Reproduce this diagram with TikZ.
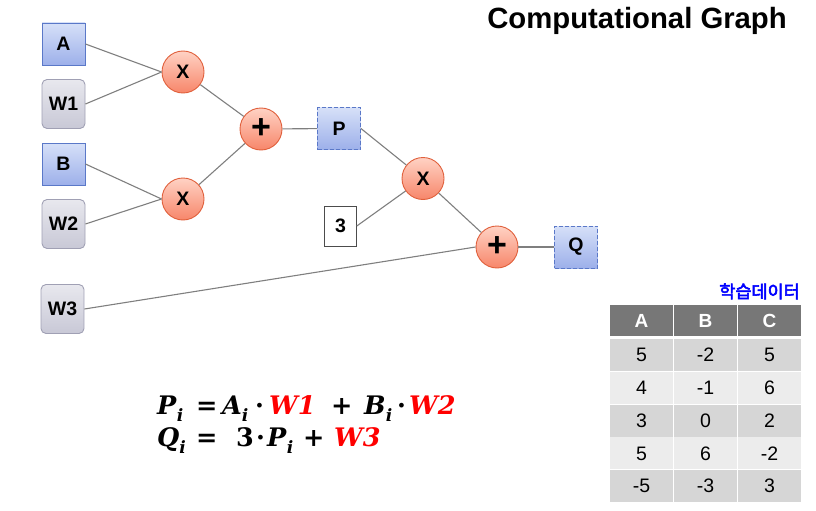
\documentclass[tikz,border=0pt]{standalone}
\usepackage{fontspec}
\setmainfont{Liberation Sans}
\newfontfamily\krfont[AutoFakeBold=3]{Noto Sans CJK KR}
\newfontfamily\eqfont{DejaVu Serif}
\usepackage{xcolor}
\definecolor{edgegray}{HTML}{7F7F7F}
\definecolor{bluetop}{HTML}{D6E0F8}
\definecolor{bluebot}{HTML}{9DB0EA}
\definecolor{blueline}{HTML}{5A78C8}
\definecolor{graytop}{HTML}{E8E8EE}
\definecolor{graybot}{HTML}{C8C8D6}
\definecolor{grayline}{HTML}{A0A0B4}
\definecolor{redtop}{HTML}{FFD2C4}
\definecolor{redbot}{HTML}{F7866A}
\definecolor{redline}{HTML}{E0603C}
\definecolor{hdr}{HTML}{777777}
\definecolor{rowA}{HTML}{D6D6D6}
\definecolor{rowB}{HTML}{ECECEC}
\definecolor{eqred}{HTML}{FF0000}
\definecolor{krblue}{HTML}{0000FF}
\newcommand{\vr}[1]{\textbf{\textit{#1}}\raisebox{-0.28em}{\fontsize{17}{17}\selectfont\textbf{\textit{i}}}}
\newcommand{\rw}[1]{\textcolor{eqred}{\textbf{\textit{#1}}}}
\newcommand{\putat}[2]{\makebox[0pt][l]{\hspace*{#1}#2}}
\begin{document}
\begin{tikzpicture}[x=1pt,y=-1pt,
  lbl/.style={font=\fontsize{19.5}{21}\selectfont\bfseries},
  inbox/.style={lbl,draw=blueline,line width=0.9pt,top color=bluetop,bottom color=bluebot,minimum width=43pt,minimum height=42pt,inner sep=0pt},
  outbox/.style={inbox,dash pattern=on 4pt off 2pt},
  wbox/.style={lbl,draw=grayline,line width=0.9pt,rounded corners=5pt,top color=graytop,bottom color=graybot,minimum width=43pt,minimum height=49pt,inner sep=0pt},
  opnode/.style={lbl,circle,draw=redline,line width=0.9pt,top color=redtop,bottom color=redbot,minimum size=42pt,inner sep=0pt},
  plusnode/.style={opnode,font=\fontsize{34}{34}\selectfont\bfseries},
  constbox/.style={lbl,draw=black!70,line width=0.6pt,fill=white,minimum width=32pt,minimum height=40pt,inner sep=0pt},
  edge/.style={draw=edgegray,line width=1.1pt},
  hcell/.style={fill=hdr,text=white,font=\fontsize{19}{21}\selectfont\bfseries,minimum width=63pt,minimum height=31pt,inner sep=0pt},
  cellA/.style={fill=rowA,font=\fontsize{19.5}{21}\selectfont,minimum width=63pt,minimum height=32pt,inner sep=0pt},
  cellB/.style={fill=rowB,font=\fontsize{19.5}{21}\selectfont,minimum width=63pt,minimum height=32pt,inner sep=0pt},
  eqnode/.style={anchor=base west,font=\fontsize{25.5}{30}\eqfont\bfseries,inner sep=0pt}
]
\useasboundingbox (0,0) rectangle (816,511);
% nodes
\node[inbox] (A) at (63.5,44) {A};
\node[wbox] (W1) at (63.5,104) {W1};
\node[inbox] (B) at (63.5,164) {B};
\node[wbox] (W2) at (63.5,224) {W2};
\node[wbox] (W3) at (62.5,309) {W3};
\node[opnode] (X1) at (183,72) {X};
\node[opnode] (X2) at (183,199) {X};
\node[plusnode] (S1) at (261,129) {+};
\node[outbox] (P) at (339,128.5) {P};
\node[opnode] (X3) at (423,178.5) {X};
\node[constbox] (C3) at (340.5,226) {3};
\node[plusnode] (S2) at (497,247) {+};
\node[outbox] (Q) at (576,247) {Q};
% edges
\path[edge] (A.east) -- (X1.west);
\path[edge] (W1.east) -- (X1.west);
\path[edge] (B.east) -- (X2.west);
\path[edge] (W2.east) -- (X2.west);
\path[edge] (X1) -- (S1);
\path[edge] (X2) -- (S1);
\path[edge] (S1) -- (P);
\path[edge] (P.east) -- (X3);
\path[edge] (C3.east) -- (X3);
\path[edge] (X3) -- (S2);
\path[edge] (W3.east) -- (S2.west);
\path[edge] (S2) -- (Q);
% title
\node[anchor=base east,font=\fontsize{29.3}{32}\selectfont\bfseries,inner sep=0pt] (title) at (787,29) {Computational Graph};
% table
\node[anchor=base east,text=krblue,font=\fontsize{17.5}{19}\krfont\bfseries,inner sep=0pt] (kr) at (800,298) {학습데이터};
\node[hcell] (h0) at (641.5,320.5) {A};
\node[hcell] (h1) at (705.5,320.5) {B};
\node[hcell] (h2) at (769.5,320.5) {C};
\node[cellA] (r0a) at (641.5,355) {5};
\node[cellA] (r0b) at (705.5,355) {-2};
\node[cellA] (r0c) at (769.5,355) {5};
\node[cellB] (r1a) at (641.5,387.8) {4};
\node[cellB] (r1b) at (705.5,387.8) {-1};
\node[cellB] (r1c) at (769.5,387.8) {6};
\node[cellA] (r2a) at (641.5,420.6) {3};
\node[cellA] (r2b) at (705.5,420.6) {0};
\node[cellA] (r2c) at (769.5,420.6) {2};
\node[cellB] (r3a) at (641.5,453.4) {5};
\node[cellB] (r3b) at (705.5,453.4) {6};
\node[cellB] (r3c) at (769.5,453.4) {-2};
\node[cellA] (r4a) at (641.5,486.2) {-5};
\node[cellA] (r4b) at (705.5,486.2) {-3};
\node[cellA] (r4c) at (769.5,486.2) {3};
% equations
\node[eqnode] (eq1) at (157,414) {\putat{0pt}{\vr{P}}\putat{39pt}{=}\putat{65pt}{\vr{A}}\putat{98pt}{·}\putat{112pt}{\rw{W1}}\putat{174pt}{+}\putat{207pt}{\vr{B}}\putat{240pt}{·}\putat{252pt}{\rw{W2}}\hspace*{306pt}};
\node[eqnode] (eq2) at (157,446) {\putat{0pt}{\vr{Q}}\putat{39pt}{=}\putat{79pt}{3}\putat{99pt}{·}\putat{110pt}{\vr{P}}\putat{146pt}{+}\putat{177pt}{\rw{W3}}\hspace*{224pt}};
\end{tikzpicture}
\end{document}
